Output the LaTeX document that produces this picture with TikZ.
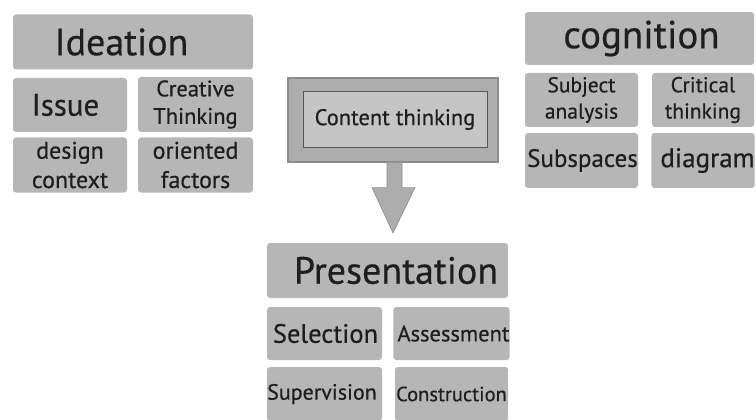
\documentclass[tikz,border=0pt]{standalone}
\usepackage{fontspec}
\setmainfont{PT Sans}[FakeBold=0.5]
\usetikzlibrary{calc}
\definecolor{tileGray}{HTML}{B6B6B6}
\definecolor{frameGray}{HTML}{8C8C8C}
\definecolor{inkDark}{HTML}{1E1E1E}

\tikzset{
  tilebox/.style={fill=tileGray,rounded corners=3pt,inner sep=0pt,
                  text=inkDark,align=center},
  fsz/.style={font=\fontsize{#1pt}{1.22\dimexpr#1pt\relax}\selectfont},
}

\begin{document}
\begin{tikzpicture}[x=1pt,y=-1pt]
  \useasboundingbox (0,0) rectangle (756,420);

  % ideation group
  \node[tilebox,fsz=38,minimum width=240,minimum height=55] (idea) at (133,42) {\hspace*{-23pt}Ideation};
  \node[tilebox,fsz=31,minimum width=114,minimum height=54] (issue) at (70,105) {\hspace*{-9pt}Issue};
  \node[tilebox,fsz=22.5,minimum width=115,minimum height=55] (creative) at (195.5,104.5) {Creative\\Thinking};
  \node[tilebox,fsz=24,minimum width=114,minimum height=55] (design) at (70,165) {design\\context};
  \node[tilebox,fsz=24,minimum width=115,minimum height=55] (oriented) at (195.5,165) {oriented\\factors};

  % cognition group
  \node[tilebox,fsz=39,minimum width=229,minimum height=53] (cog) at (639.5,38.5) {\hspace*{4pt}cognition};
  \node[tilebox,fsz=21.5,minimum width=113,minimum height=54] (subject) at (581.5,100) {Subject\\analysis};
  \node[tilebox,fsz=21.5,minimum width=102,minimum height=54] (critical) at (703,100) {Critical\\thinking};
  \node[tilebox,fsz=25,minimum width=113,minimum height=55] (subspace) at (581.5,160.5) {\hspace*{2pt}Subspaces};
  \node[tilebox,fsz=27,minimum width=102,minimum height=55] (diagram) at (703,160.5) {\hspace*{9pt}diagram};

  % content thinking and the block arrow under it
  \node[fill=tileGray!95!black,draw=frameGray,line width=1.2pt,inner sep=0pt,
        minimum width=210,minimum height=84] (outer) at (393,120) {};
  \node[fill=tileGray!80!white,draw=inkDark!75,line width=1pt,inner sep=0pt,
        fsz=22.5,text=inkDark,minimum width=184,minimum height=55] (content) at (395,119.5) {Content thinking};
  \coordinate (tip) at (393,233);
  \fill[tileGray!95!black,draw=frameGray,line width=0.6pt]
    ($(outer.south)+(-6,0)$) -- ($(outer.south)+(-6,25)$) -- ($(outer.south)+(-21,25)$)
    -- (tip) -- ($(outer.south)+(22,25)$) -- ($(outer.south)+(9,25)$)
    -- ($(outer.south)+(9,0)$);

  % presentation group
  \node[tilebox,fsz=38,minimum width=241,minimum height=55] (present) at (387.5,270.5) {\hspace*{17pt}Presentation};
  \node[tilebox,fsz=26.5,minimum width=115,minimum height=53] (select) at (324.5,333.5) {\hspace*{2pt}Selection};
  \node[tilebox,fsz=22.5,minimum width=113,minimum height=53] (assess) at (451.5,333.5) {\hspace*{4pt}Assessment};
  \node[tilebox,fsz=22,minimum width=115,minimum height=54] (superv) at (324.5,394) {\hspace*{-5pt}Supervision};
  \node[tilebox,fsz=20.5,minimum width=113,minimum height=54] (constr) at (451.5,394) {Construction};
\end{tikzpicture}
\end{document}
